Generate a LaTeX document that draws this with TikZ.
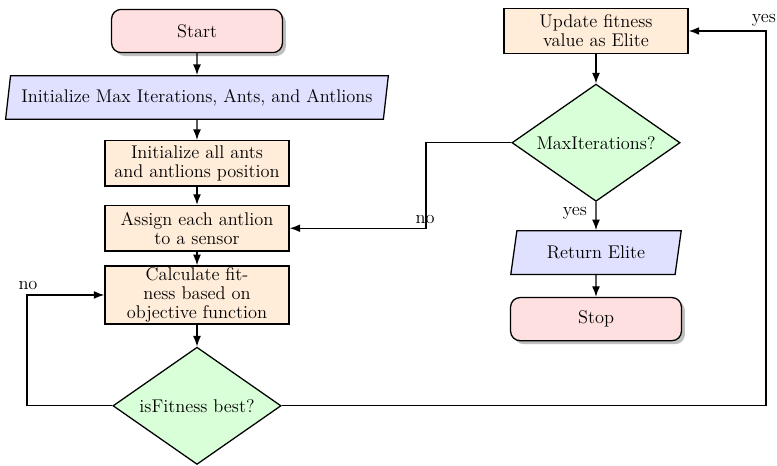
\documentclass[tikz,border=0pt]{standalone}
\usetikzlibrary{arrows.meta,positioning,shapes.geometric,shadows}

\begin{document}
\begin{tikzpicture}[
    x=0.022cm, y=-0.022cm,
    >=Latex,
    font=\fontsize{11.5}{12}\selectfont,
    node distance=0.48cm,
    startstop/.style={draw, thick, rounded corners=6pt, align=center, minimum width=3.76cm, minimum height=0.95cm, fill=red!12, drop shadow},
    io/.style={trapezium, trapezium left angle=80, trapezium right angle=100, trapezium stretches=true, draw, thick, align=center, minimum height=0.96cm, fill=blue!12},
    process/.style={draw, thick, align=center, inner ysep=1pt, minimum width=4.05cm, minimum height=1cm, fill=orange!15},
    decision/.style={diamond, draw, thick, align=center, aspect=1.45, minimum width=3.7cm, minimum height=2.58cm, inner sep=0pt, fill=green!15},
    flow/.style={->, thick}
]
\useasboundingbox (0,0) rectangle (777,466);

% Main column
\node[startstop] (start) at (197,31) {Start};
\node[io, below=of start, minimum width=8.45cm] (param) {Initialize Max Iterations, Ants, and Antlions};
\node[process, below=0.44cm of param] (init) {Initialize all ants\\and antlions position};
\node[process, below=0.4cm of init] (assign) {Assign each antlion\\to a sensor};
\node[process, below=0.3cm of assign, minimum height=1.23cm] (fit) {Calculate fit-\\ness based on\\objective function};
\node[decision, below=of fit] (best) {isFitness best?};

% Right column
\node[process] (elite) at (596,31) {Update fitness\\value as Elite};
\node[decision, below=0.64cm of elite] (maxit) {MaxIterations?};
\node[io, below=0.62cm of maxit, minimum width=3.78cm] (ret) {Return Elite};
\node[startstop, below=of ret] (stop) {Stop};

% x positions of the loop returns
\coordinate (noleft) at (27,0);
\coordinate (yesright) at (766,0);
\coordinate (noback) at (426,0);

% Flows
\draw[flow] (start) -- (param);
\draw[flow] (param) -- (init);
\draw[flow] (init) -- (assign);
\draw[flow] (assign) -- (fit);
\draw[flow] (fit) -- (best);

\draw[flow] (best.west) -- (best.west -| noleft) |- (fit.west);
\draw[flow] (best.east) -- (best.east -| yesright) |- (elite.east);

\draw[flow] (elite) -- (maxit);
\draw[flow] (maxit) -- (ret);
\draw[flow] (maxit.west) -- (maxit.west -| noback) |- (assign.east);
\draw[flow] (ret) -- (stop);

% Branch labels
\node (lno1) at (28,285) {no};
\node (lyes1) at (764,20) {yes};
\node (lno2) at (425,219) {no};
\node (lyes2) at (575,213) {yes};

\end{tikzpicture}
\end{document}
